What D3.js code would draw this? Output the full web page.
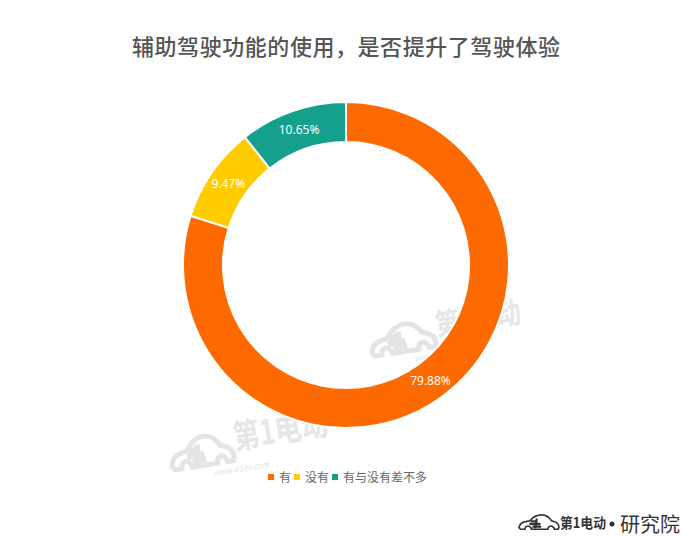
<!DOCTYPE html>
<html><head><meta charset="utf-8">
<script src="https://cdn.jsdelivr.net/npm/d3@7"></script>
<style>
html,body{margin:0;padding:0;background:#fff;}
svg{display:block;font-family:"Noto Sans CJK SC","Noto Sans",sans-serif;}
</style></head>
<body>
<svg id="chart" width="700" height="538"></svg>
<script>
const title = "辅助驾驶功能的使用，是否提升了驾驶体验";
const categories = ["有", "没有", "有与没有差不多"];
const values = [79.88, 9.47, 10.65];
const labels = ["79.88%", "9.47%", "10.65%"];
const colors = ["#FF6A00", "#FFCC00", "#14A08C"];

const svg = d3.select("#chart");
const cx = 346, cy = 265, outerR = 163, innerR = 123;

// car outline used by watermarks and logo
function car(g, sx, sy, col, sw) {
  const p = "M0,30 C2,22 8,18 18,17 L30,15 C38,6 48,2 62,2 C74,2 82,8 88,15 L96,17 C104,19 108,24 108,30 L106,34 L96,34 C94,28 88,26 84,27 C80,28 78,31 78,34 L34,34 C32,28 26,26 22,27 C18,28 16,31 16,34 L4,34 Z";
  const t = `scale(${sx},${sy})`;
  g.append("path").attr("d", p).attr("transform", t)
    .attr("fill", "none").attr("stroke", col).attr("stroke-width", sw).attr("vector-effect", "non-scaling-stroke");
  g.append("path").attr("d", "M32,16 L50,16 M28,22 L58,22 M36,28 L60,28 M48,10 L44,32")
    .attr("transform", t).attr("fill", "none").attr("stroke", col).attr("stroke-width", sw * 1.3).attr("vector-effect", "non-scaling-stroke");
}
function watermark(x, y, sx, sy, fs, tl) {
  const g = svg.append("g").attr("transform", `translate(${x},${y}) rotate(-9)`);
  car(g, sx, sy, "#e4e4e4", 5);
  g.append("text").attr("x", 112 * sx).attr("y", 22 * sy).attr("font-size", fs).attr("font-weight", "bold")
    .attr("textLength", tl).attr("lengthAdjust", "spacingAndGlyphs")
    .attr("fill", "#e6e6e6").text("第1电动");
  g.append("text").attr("x", 68 * sx).attr("y", 36 * sy + 10).attr("font-size", 8).attr("font-style", "italic")
    .attr("fill", "#e4e4e4").text("www.d1ev.com");
}
watermark(368, 328, 0.6, 0.85, 30, 86);
watermark(168, 440, 0.58, 0.9, 34, 95);

// title
svg.append("text").attr("x", 346).attr("y", 55).attr("text-anchor", "middle")
  .attr("font-size", 22).attr("font-weight", 500).attr("fill", "#555")
  .attr("textLength", 428).attr("lengthAdjust", "spacing").text(title);

// donut
const pie = d3.pie().sort(null).value(d => d)(values);
const arc = d3.arc().innerRadius(innerR).outerRadius(outerR);
const g = svg.append("g").attr("transform", `translate(${cx},${cy})`);
g.selectAll("path.slice").data(pie).join("path").attr("class", "slice")
  .attr("d", arc).attr("fill", (d, i) => colors[i])
  .attr("stroke", "#fff").attr("stroke-width", 2);
const labelArc = d3.arc().innerRadius((innerR + outerR) / 2).outerRadius((innerR + outerR) / 2);
g.selectAll("text.lbl").data(pie).join("text").attr("class", "lbl")
  .attr("transform", d => `translate(${labelArc.centroid(d)})`)
  .attr("text-anchor", "middle").attr("dy", "0.35em")
  .attr("font-size", 12).attr("fill", "#fff")
  .attr("font-family", "'Noto Sans',sans-serif")
  .text((d, i) => labels[i]);

// legend
const legendX = [268, 294, 332];
const lg = svg.append("g");
categories.forEach((c, i) => {
  lg.append("rect").attr("x", legendX[i]).attr("y", 474).attr("width", 6).attr("height", 6).attr("fill", colors[i]);
  lg.append("text").attr("x", legendX[i] + 11).attr("y", 481.5).attr("font-size", 12).attr("fill", "#666").text(c);
});

// bottom logo
const lgo = svg.append("g").attr("transform", "translate(519,514)");
car(lgo, 0.37, 0.45, "#333", 1.6);
lgo.append("text").attr("x", 41).attr("y", 14).attr("font-size", 14).attr("font-weight", "bold")
  .attr("textLength", 46).attr("lengthAdjust", "spacingAndGlyphs").attr("fill", "#333").text("第1电动");
svg.append("circle").attr("cx", 612).attr("cy", 524).attr("r", 2.5).attr("fill", "#333");
svg.append("text").attr("x", 620).attr("y", 532).attr("font-size", 20).attr("fill", "#333").text("研究院");
</script>
</body></html>
